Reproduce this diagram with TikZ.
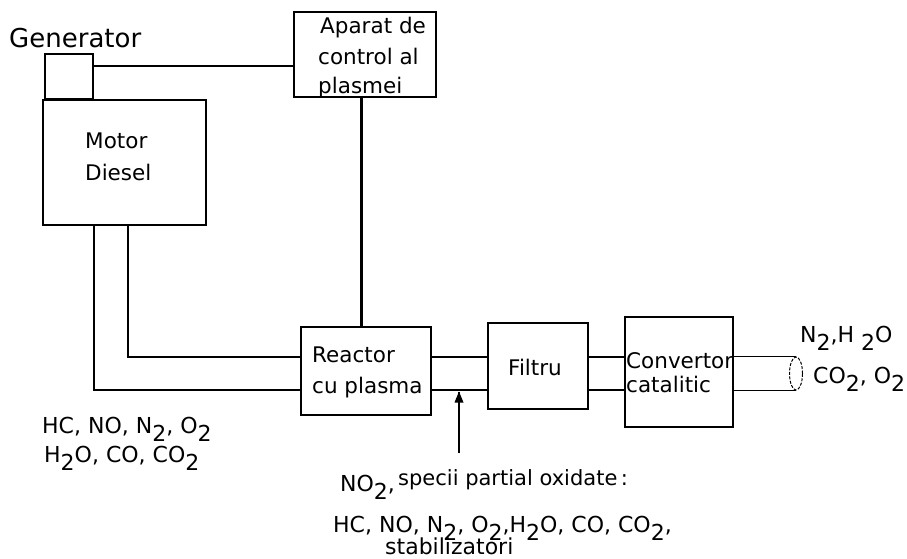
\documentclass[tikz,border=0pt]{standalone}
\usepackage{fontspec}
\setmainfont{DejaVu Sans}
\usetikzlibrary{shapes.geometric,arrows.meta}
\newcommand{\dn}[1]{\raisebox{-0.4em}{#1}}
\begin{document}
\begin{tikzpicture}[x=1pt,y=-1pt,
  blk/.style={draw,line width=1.7pt,rectangle,inner sep=0pt},
  pipe/.style={line width=1.7pt},
  lbl/.style={anchor=base west,inner sep=0pt,font=\fontsize{21.5}{30}\selectfont},
  chem/.style={anchor=base west,inner sep=0pt,font=\fontsize{22}{28}\selectfont}]
\useasboundingbox (0,0) rectangle (907,558);
% boxes
\node[blk,minimum width=48pt,minimum height=45pt] (gen) at (69,76.5) {};
\node[blk,minimum width=163pt,minimum height=125pt] (motor) at (124.5,162.5) {};
\node[blk,minimum width=142pt,minimum height=85pt] (ctrl) at (365,54.5) {};
\node[blk,minimum width=130pt,minimum height=88pt] (reac) at (366,371) {};
\node[blk,minimum width=100pt,minimum height=86pt] (filt) at (538,366) {};
\node[blk,minimum width=108pt,minimum height=110pt] (conv) at (679,372) {};
\node[draw,dashed,dash pattern=on 3pt off 1.5pt,line width=1pt,ellipse,inner sep=0pt,minimum width=13pt,minimum height=33pt] (outlet) at (796,373.5) {};
% helper coordinates
\coordinate (y66) at (0,66);
\coordinate (y357) at (0,357);
\coordinate (y389) at (0,390);
\coordinate (x361) at (361,0);
\coordinate (x128) at (128,0);
\coordinate (x94) at (94,0);
\coordinate (arrtail) at (459,453);
\coordinate (arrtip) at (459,391.5);
% connectors
\draw[pipe] (gen.east |- y66) -- (ctrl.west |- y66);
\draw[line width=3pt] (ctrl.south -| x361) -- (reac.north -| x361);
\draw[pipe] (motor.south -| x128) |- (reac.west |- y357);
\draw[pipe] (motor.south -| x94) |- (reac.west |- y389);
\draw[pipe] (reac.east |- y357) -- (filt.west |- y357);
\draw[pipe] (reac.east |- y389) -- (filt.west |- y389);
\draw[pipe] (filt.east |- y357) -- (conv.west |- y357);
\draw[pipe] (filt.east |- y389) -- (conv.west |- y389);
\draw[pipe] (conv.east |- outlet.north) -- (outlet.north);
\draw[pipe] (conv.east |- outlet.south) -- (outlet.south);
\draw[line width=1.3pt] (arrtail) -- (arrtip);
\fill (arrtip) -- ++(-4.5,11) -- ++(9,0) -- cycle;
% labels
\node[anchor=base west,inner sep=0pt,font=\fontsize{26}{30}\selectfont] (tgen) at (9,47) {Generator};
\node[lbl] (tc1) at (320,33) {Aparat de};
\node[lbl] (tc2) at (318,64) {control al};
\node[lbl] (tc3) at (318,93) {plasmei};
\node[lbl] (tm1) at (85,148) {Motor};
\node[lbl] (tm2) at (85,180) {Diesel};
\node[lbl] (tr1) at (312,362) {Reactor};
\node[lbl] (tr2) at (312,393) {cu plasma};
\node[lbl] (tf) at (508,375) {Filtru};
\node[lbl] (tv1) at (626,368) {Convertor};
\node[lbl] (tv2) at (626,392) {catalitic};
\node[chem] (out1) at (800,342) {N\dn{2},H \dn{2}O};
\node[chem] (out2) at (813,383) {CO\dn{2}, O\dn{2}};
\node[chem] (in1) at (42,433) {HC, NO, N\dn{2}, O\dn{2}};
\node[chem] (in2) at (44,462) {H\dn{2}O, CO, CO\dn{2}};
\node[chem] (p1) at (340,491) {NO\dn{2},};
\node[anchor=base west,inner sep=0pt,font=\fontsize{21}{28}\selectfont] (p2) at (398,485) {specii partial oxidate\,:};
\node[chem] (p3) at (333,532) {HC, NO, N\dn{2}, O\dn{2},H\dn{2}O, CO, CO\dn{2},};
\node[chem] (p4) at (385,554) {stabilizatori};
\end{tikzpicture}
\end{document}
